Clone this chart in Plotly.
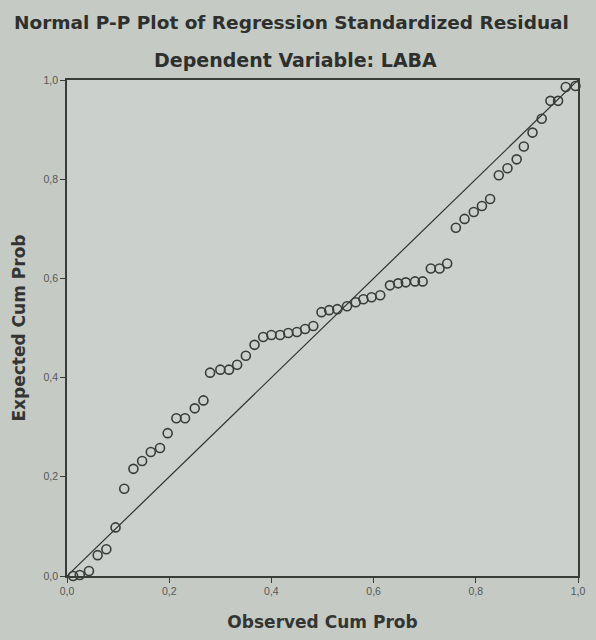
import plotly.graph_objects as go

observed_cum_prob = [0.012, 0.025, 0.043, 0.060, 0.077, 0.095, 0.112, 0.130, 0.147, 0.164,
                     0.182, 0.197, 0.214, 0.231, 0.250, 0.267, 0.280, 0.300, 0.317, 0.333,
                     0.350, 0.367, 0.384, 0.400, 0.417, 0.433, 0.450, 0.466, 0.482, 0.498,
                     0.513, 0.529, 0.548, 0.565, 0.580, 0.596, 0.613, 0.632, 0.648, 0.663,
                     0.681, 0.696, 0.712, 0.729, 0.744, 0.761, 0.778, 0.796, 0.812, 0.828,
                     0.845, 0.862, 0.880, 0.894, 0.911, 0.929, 0.946, 0.961, 0.976, 0.995]
expected_cum_prob = [0.000, 0.002, 0.010, 0.042, 0.054, 0.098, 0.176, 0.216, 0.232, 0.250,
                     0.258, 0.288, 0.318, 0.318, 0.338, 0.354, 0.410, 0.416, 0.416, 0.426,
                     0.444, 0.466, 0.482, 0.486, 0.486, 0.490, 0.492, 0.498, 0.504, 0.532,
                     0.536, 0.538, 0.544, 0.552, 0.558, 0.562, 0.566, 0.586, 0.590, 0.592,
                     0.594, 0.594, 0.620, 0.620, 0.630, 0.702, 0.720, 0.734, 0.746, 0.760,
                     0.808, 0.822, 0.840, 0.866, 0.894, 0.922, 0.958, 0.958, 0.986, 0.988]
reference_line = [0.0, 1.0]
tick_vals = [0.0, 0.2, 0.4, 0.6, 0.8, 1.0]
tick_text = ["0,0", "0,2", "0,4", "0,6", "0,8", "1,0"]

TITLE_FONT = "DejaVu Sans"

fig = go.Figure()
fig.add_trace(go.Scatter(x=reference_line, y=reference_line, mode="lines",
                         line=dict(color="#2e302e", width=1.2), hoverinfo="skip",
                         showlegend=False))
fig.add_trace(go.Scatter(x=observed_cum_prob, y=expected_cum_prob, mode="markers",
                         marker=dict(symbol="circle-open", size=9,
                                     line=dict(color="#3a3c3a", width=1.6),
                                     color="#3a3c3a"),
                         cliponaxis=False, showlegend=False))

axis_common = dict(range=[0, 1], tickvals=tick_vals, ticktext=tick_text,
                   showgrid=False, zeroline=False, showline=True, mirror=True,
                   linecolor="#3a3c3a", linewidth=1.5, ticks="outside", ticklen=5,
                   tickcolor="#3a3c3a", tickwidth=1.2,
                   tickfont=dict(family="Liberation Sans", size=10.5, color="#555855"))

fig.update_xaxes(**axis_common,
                 title=dict(text="<b>Observed Cum Prob</b>", standoff=20,
                            font=dict(family=TITLE_FONT, size=17, color="#333533")))
fig.update_yaxes(**axis_common,
                 title=dict(text="<b>Expected Cum Prob</b>", standoff=14,
                            font=dict(family=TITLE_FONT, size=17, color="#333533")))

fig.update_layout(
    width=596, height=640,
    margin=dict(l=67, r=11, t=80, b=58),
    paper_bgcolor="#c5cac5",
    plot_bgcolor="#ccd0cc",
    annotations=[
        dict(text="<b>Normal P-P Plot of Regression Standardized Residual</b>",
             xref="paper", yref="paper", x=0.44, y=1.0, yanchor="middle", yshift=58,
             showarrow=False,
             font=dict(family=TITLE_FONT, size=18.5, color="#2e302e")),
        dict(text="<b>Dependent Variable: LABA</b>",
             xref="paper", yref="paper", x=0.448, y=1.0, yanchor="middle", yshift=20,
             showarrow=False,
             font=dict(family=TITLE_FONT, size=19, color="#2e302e")),
    ],
)

fig.write_html("out.html", config={"displayModeBar": False},
               post_script="document.body.style.margin='0';document.body.style.overflow='hidden';")
